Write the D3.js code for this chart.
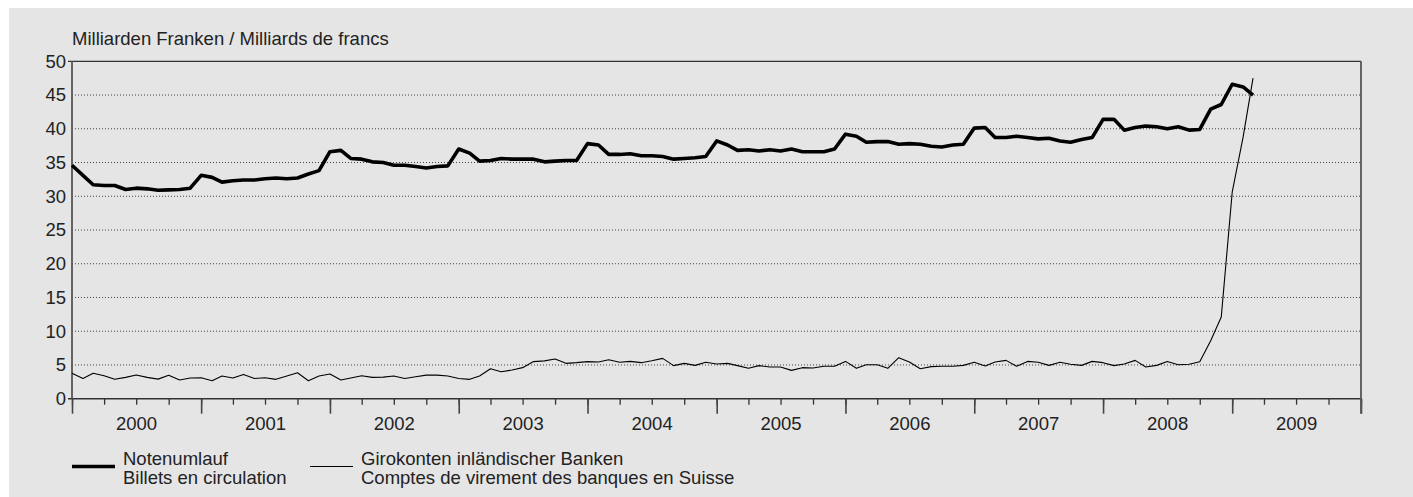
<!DOCTYPE html>
<html>
<head>
<meta charset="utf-8">
<script src="https://cdn.jsdelivr.net/npm/d3@7"></script>
<style>
  html, body { margin: 0; padding: 0; background: #fff; }
  svg { display: block; }
  text { font-family: "Liberation Sans", Arial, sans-serif; fill: #222; }
</style>
</head>
<body>
<script>
"use strict";

// month-end values, starting Dec 1999, ending Feb 2009 (Mrd. CHF)
var notenumlauf = [
  34.6, 33.1, 31.7, 31.6, 31.6, 31.0, 31.2, 31.1, 30.9, 30.95, 31.0, 31.2,
  33.1, 32.8, 32.1, 32.3, 32.4, 32.4, 32.6, 32.7, 32.6, 32.7, 33.3, 33.8,
  36.6, 36.8, 35.6, 35.5, 35.1, 35.0, 34.6, 34.6, 34.4, 34.2, 34.4, 34.5,
  37.0, 36.4, 35.2, 35.3, 35.6, 35.5, 35.5, 35.5, 35.1, 35.2, 35.3, 35.3,
  37.8, 37.6, 36.2, 36.2, 36.3, 36.0, 36.0, 35.9, 35.5, 35.6, 35.7, 35.9,
  38.2, 37.6, 36.8, 36.9, 36.7, 36.9, 36.7, 37.0, 36.6, 36.6, 36.6, 37.0,
  39.2, 38.9, 38.0, 38.1, 38.1, 37.7, 37.8, 37.7, 37.4, 37.3, 37.6, 37.7,
  40.1, 40.2, 38.7, 38.7, 38.9, 38.7, 38.5, 38.6, 38.2, 38.0, 38.4, 38.7,
  41.4, 41.4, 39.8, 40.2, 40.4, 40.3, 40.0, 40.3, 39.8, 39.9,
  42.9, 43.6, 46.6, 46.2, 45.0
];

var girokonten = [
  3.76, 3.0, 3.76, 3.4, 2.87, 3.16, 3.5, 3.16, 2.9, 3.46, 2.77, 3.06,
  3.1, 2.67, 3.36, 3.06, 3.6, 3.0, 3.1, 2.87, 3.36, 3.85, 2.67, 3.36,
  3.65, 2.77, 3.06, 3.4, 3.16, 3.2, 3.36, 3.0, 3.26, 3.5, 3.5, 3.36,
  3.0, 2.87, 3.36, 4.45, 4.0, 4.25, 4.6, 5.5, 5.6, 5.88, 5.24, 5.34,
  5.5, 5.44, 5.78, 5.4, 5.53, 5.34, 5.63, 5.98, 4.9, 5.24, 4.94, 5.4,
  5.14, 5.24, 4.9, 4.5, 4.9, 4.7, 4.7, 4.2, 4.6, 4.55, 4.8, 4.8,
  5.53, 4.5, 5.04, 5.04, 4.5, 6.08, 5.44, 4.45, 4.75, 4.8, 4.8, 4.94,
  5.4, 4.85, 5.44, 5.68, 4.8, 5.53, 5.4, 4.94, 5.4, 5.1, 4.94, 5.53,
  5.34, 4.9, 5.14, 5.68, 4.7, 4.94, 5.5, 5.04, 5.1, 5.48,
  8.6, 12.1, 30.6, 38.8, 47.5
];

var yearLabels = [2000, 2001, 2002, 2003, 2004, 2005, 2006, 2007, 2008, 2009];
var yTicks = [0, 5, 10, 15, 20, 25, 30, 35, 40, 45, 50];
var unitLabel = "Milliarden Franken / Milliards de francs";
var legendItems = [
  { de: "Notenumlauf", fr: "Billets en circulation", width: 3.6 },
  { de: "Girokonten inländischer Banken", fr: "Comptes de virement des banques en Suisse", width: 1.1 }
];

(function () {
  var W = 1413, H = 497;
  var left = 72, right = 1361, top = 61.3, bottom = 398.7;

  var svg = d3.select("body").append("svg")
    .attr("width", W)
    .attr("height", H);

  // grey panel
  svg.append("rect")
    .attr("x", 9).attr("y", 8)
    .attr("width", W - 9).attr("height", H - 8)
    .attr("fill", "#e5e5e5");

  var start = new Date(2000, 0, 1);
  var x = d3.scaleTime()
    .domain([start, new Date(2010, 0, 1)])
    .range([left, right]);
  var y = d3.scaleLinear().domain([0, 50]).range([bottom, top]);

  // point i sits at the end of month i-1 (i = 0 -> end of Dec 1999)
  function dateOf(i) { return d3.timeMonth.offset(start, i); }

  // dotted grid
  svg.append("g")
    .selectAll("line")
    .data(yTicks.filter(function (d) { return d > 0 && d < 50; }))
    .join("line")
    .attr("x1", left).attr("x2", right)
    .attr("y1", function (d) { return y(d); })
    .attr("y2", function (d) { return y(d); })
    .attr("stroke", "#444")
    .attr("stroke-width", 1)
    .attr("stroke-dasharray", "1,2");

  // y labels
  var yAxis = svg.append("g")
    .attr("transform", "translate(" + left + ",0)")
    .call(d3.axisLeft(y).tickValues(yTicks).tickSize(0).tickPadding(6));
  yAxis.select(".domain").remove();
  yAxis.selectAll("text")
    .style("font-size", "18.5px")
    .attr("fill", "#222");

  // quarter ticks
  var qAxis = svg.append("g")
    .attr("transform", "translate(0," + bottom + ")")
    .call(d3.axisBottom(x)
      .tickValues(d3.timeMonth.every(3).range(start, new Date(2010, 0, 2)))
      .tickSize(6).tickFormat(""));
  qAxis.select(".domain").remove();
  qAxis.selectAll("line").attr("stroke", "#333").attr("stroke-width", 1.3);

  // year ticks
  var yrAxis = svg.append("g")
    .attr("transform", "translate(0," + bottom + ")")
    .call(d3.axisBottom(x)
      .tickValues(d3.timeYear.range(start, new Date(2010, 0, 2)))
      .tickSize(15).tickFormat(""));
  yrAxis.select(".domain").remove();
  yrAxis.selectAll("line").attr("stroke", "#444").attr("stroke-width", 1.6);

  // year labels centred in each year
  svg.append("g")
    .selectAll("text")
    .data(yearLabels)
    .join("text")
    .attr("x", function (d) { return (x(new Date(d, 0, 1)) + x(new Date(d + 1, 0, 1))) / 2; })
    .attr("y", 429.5)
    .attr("text-anchor", "middle")
    .style("font-size", "18.5px")
    .text(function (d) { return d; });

  // frame
  var frame = svg.append("g").attr("fill", "none");
  frame.append("line")
    .attr("x1", left - 4).attr("x2", right).attr("y1", top).attr("y2", top)
    .attr("stroke", "#333").attr("stroke-width", 1.2);
  frame.append("line")
    .attr("x1", left - 4).attr("x2", right).attr("y1", bottom).attr("y2", bottom)
    .attr("stroke", "#333").attr("stroke-width", 1.4);
  frame.append("line")
    .attr("x1", left).attr("x2", left).attr("y1", top).attr("y2", bottom)
    .attr("stroke", "#555").attr("stroke-width", 1.8);
  frame.append("line")
    .attr("x1", right).attr("x2", right).attr("y1", top).attr("y2", bottom + 15)
    .attr("stroke", "#555").attr("stroke-width", 1.8);

  // unit label
  svg.append("text")
    .attr("x", left).attr("y", 45)
    .style("font-size", "18.5px")
    .text(unitLabel);

  var line = d3.line()
    .x(function (d, i) { return x(dateOf(i)); })
    .y(function (d) { return y(d); });

  svg.append("path")
    .attr("d", line(notenumlauf))
    .attr("fill", "none")
    .attr("stroke", "#000")
    .attr("stroke-width", legendItems[0].width)
    .attr("stroke-linejoin", "round");

  svg.append("path")
    .attr("d", line(girokonten))
    .attr("fill", "none")
    .attr("stroke", "#000")
    .attr("stroke-width", legendItems[1].width)
    .attr("stroke-linejoin", "round");

  // legend
  var legendX = [72, 310];
  var lg = svg.append("g")
    .selectAll("g")
    .data(legendItems)
    .join("g")
    .attr("transform", function (d, i) { return "translate(" + legendX[i] + ",0)"; });
  lg.append("line")
    .attr("x1", 0).attr("x2", 43)
    .attr("y1", 466.5).attr("y2", 466.5)
    .attr("stroke", "#000")
    .attr("stroke-width", function (d) { return d.width; });
  lg.append("text")
    .attr("x", 51).attr("y", 465)
    .style("font-size", "18.5px")
    .text(function (d) { return d.de; });
  lg.append("text")
    .attr("x", 51).attr("y", 483.5)
    .style("font-size", "18.5px")
    .text(function (d) { return d.fr; });
})();
</script>
</body>
</html>
